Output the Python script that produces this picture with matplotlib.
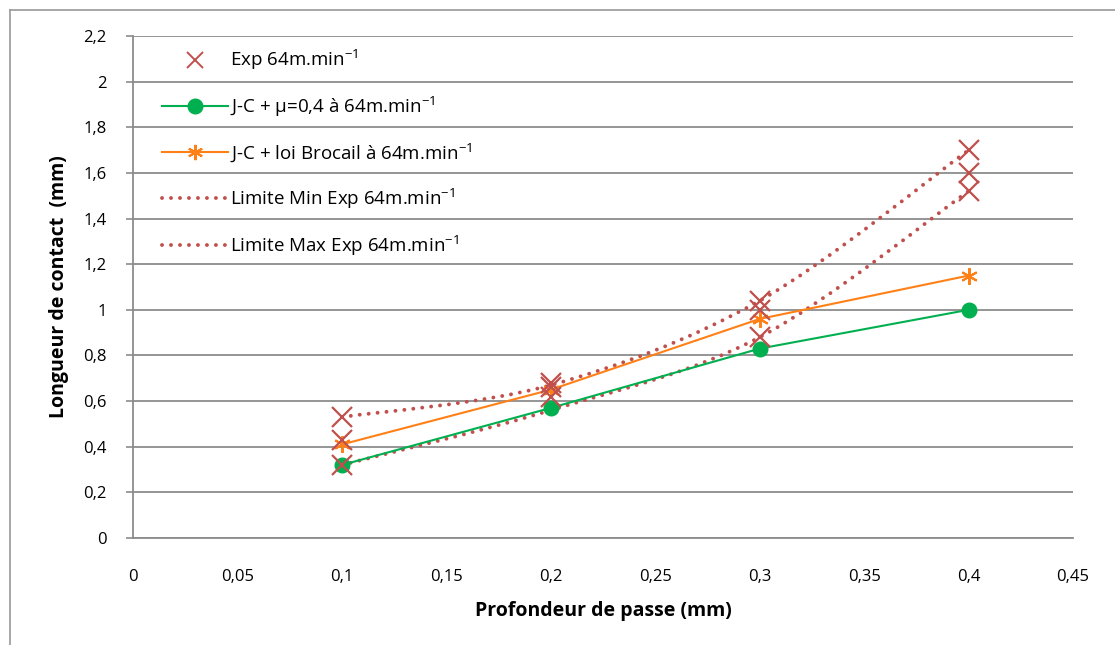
import matplotlib
matplotlib.use("Agg")
import matplotlib.pyplot as plt
from matplotlib.lines import Line2D
from matplotlib.path import Path
from matplotlib.patches import PathPatch
import numpy as np

# data
depth = [0.1, 0.2, 0.3, 0.4]
exp_x = [0.1, 0.1, 0.1, 0.2, 0.2, 0.2, 0.3, 0.3, 0.3, 0.4, 0.4, 0.4]
exp_y = [0.53, 0.43, 0.32, 0.68, 0.66, 0.62, 1.04, 1.00, 0.88, 1.70, 1.60, 1.52]
jc_mu = [0.32, 0.57, 0.83, 1.00]
jc_brocail = [0.41, 0.65, 0.96, 1.15]
lim_min = [0.32, 0.56, 0.88, 1.52]
lim_max = [0.53, 0.67, 1.04, 1.70]

x_ticks = [0, 0.05, 0.1, 0.15, 0.2, 0.25, 0.3, 0.35, 0.4, 0.45]
y_ticks = [0, 0.2, 0.4, 0.6, 0.8, 1.0, 1.2, 1.4, 1.6, 1.8, 2.0, 2.2]

RED = "#C0504D"
GREEN = "#00B050"
ORANGE = "#FF8017"
GRID = "#8C8C8C"

plt.rcParams["font.family"] = ["Open Sans", "DejaVu Sans"]
plt.rcParams["mathtext.fontset"] = "custom"
plt.rcParams["mathtext.rm"] = "Open Sans"
plt.rcParams["mathtext.it"] = "Open Sans:italic"


def fr(v):
    s = f"{v:g}"
    return s.replace(".", ",")


def smooth_path(xs, ys):
    # Excel-style smoothed line: cubic bezier segments through the points
    pts = np.column_stack([xs, ys])
    n = len(pts)
    verts = [pts[0]]
    codes = [Path.MOVETO]
    for i in range(n - 1):
        p0 = pts[i - 1] if i > 0 else pts[i]
        p1 = pts[i]
        p2 = pts[i + 1]
        p3 = pts[i + 2] if i + 2 < n else pts[i + 1]
        c1 = p1 + (p2 - p0) / 6.0
        c2 = p2 - (p3 - p1) / 6.0
        verts += [c1, c2, p2]
        codes += [Path.CURVE4] * 3
    return Path(verts, codes)


dot_lw = 2.8
dot_style = (0, (0.01, 2.3))

fig = plt.figure(figsize=(11.15, 6.45), dpi=100)
ax = fig.add_axes([133 / 1115, 1 - 538 / 645, (1073 - 133) / 1115, (538 - 36) / 645])

# outer chart frame (runs off the right and bottom of the picture)
fig.add_artist(Line2D([10 / 1115, 1.0], [1 - 10 / 645] * 2, color="#A0A0A0", lw=1.3,
                      transform=fig.transFigure))
fig.add_artist(Line2D([10 / 1115] * 2, [0, 1 - 10 / 645], color="#A0A0A0", lw=1.3,
                      transform=fig.transFigure))

for path_y in (lim_min, lim_max):
    patch = PathPatch(smooth_path(depth, path_y), fill=False, edgecolor=RED, lw=dot_lw,
                      linestyle=dot_style, capstyle="round", zorder=3)
    ax.add_patch(patch)

ax.plot(depth, jc_mu, color=GREEN, lw=1.5, marker="o", markersize=10.5, zorder=4)
ax.plot(depth, jc_brocail, color=ORANGE, lw=1.5, marker=(6, 2, 0), markersize=12,
        markeredgewidth=1.5, zorder=4)
ax.plot(exp_x, exp_y, linestyle="none", marker="x", color=RED, markersize=14,
        markeredgewidth=1.6, zorder=5)

ax.set_xlim(0, 0.45)
ax.set_ylim(0, 2.2)
ax.set_xticks(x_ticks)
ax.set_xticklabels([fr(v) for v in x_ticks])
ax.set_yticks(y_ticks)
ax.set_yticklabels([fr(v) for v in y_ticks])
ax.tick_params(axis="x", length=0, pad=22, labelsize=12)
ax.tick_params(axis="y", length=5, width=1.2, color=GRID, pad=14, labelsize=12)
for side in ("top", "right"):
    ax.spines[side].set_visible(False)
for side in ("left", "bottom"):
    ax.spines[side].set_color(GRID)
    ax.spines[side].set_linewidth(1.3)
ax.grid(axis="y", color=GRID, lw=1.3)
ax.set_axisbelow(True)

ax.set_xlabel("Profondeur de passe (mm)", fontsize=14, fontweight="bold", labelpad=12)
ax.set_ylabel("Longueur de contact  (mm)", fontsize=14, fontweight="bold", labelpad=10)

handles = [
    Line2D([], [], linestyle="none", marker="x", color=RED, markersize=12, markeredgewidth=1.4),
    Line2D([], [], color=GREEN, lw=1.5, marker="o", markersize=10.5),
    Line2D([], [], color=ORANGE, lw=1.5, marker=(6, 2, 0), markersize=11, markeredgewidth=1.5),
    Line2D([], [], color=RED, lw=dot_lw, linestyle=dot_style, dash_capstyle="round"),
    Line2D([], [], color=RED, lw=dot_lw, linestyle=dot_style, dash_capstyle="round"),
]
labels = [
    r"Exp 64m.min$^{-1}$",
    r"J-C + μ=0,4 à 64m.min$^{-1}$",
    r"J-C + loi Brocail à 64m.min$^{-1}$",
    r"Limite Min Exp 64m.min$^{-1}$",
    r"Limite Max Exp 64m.min$^{-1}$",
]
ax.legend(handles, labels, loc="upper left", bbox_to_anchor=(0.023, 0.991), frameon=False,
          fontsize=13.5, handlelength=3.5, handletextpad=0.1, labelspacing=1.21,
          borderaxespad=0)

fig.savefig("out.png", dpi=100)
